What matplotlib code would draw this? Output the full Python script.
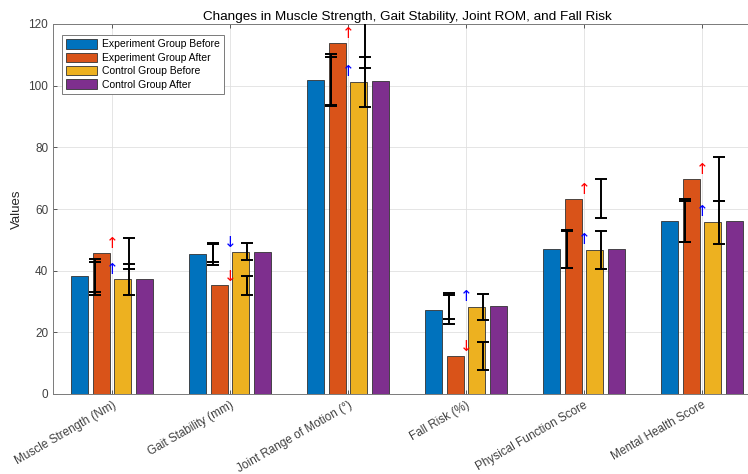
import numpy as np
import matplotlib
matplotlib.use("Agg")
import matplotlib.pyplot as plt

plt.rcParams['font.family'] = ['Liberation Sans', 'DejaVu Sans']

categories = ['Muscle Strength (Nm)', 'Gait Stability (mm)', 'Joint Range of Motion (°)',
              'Fall Risk (%)', 'Physical Function Score', 'Mental Health Score']
series_names = ['Experiment Group Before', 'Experiment Group After',
                'Control Group Before', 'Control Group After']

# group means
exp_before = [38.4, 45.4, 101.8, 27.4, 47.1, 56.2]
exp_after = [45.7, 35.2, 114.0, 12.4, 63.3, 69.8]
ctrl_before = [37.2, 46.2, 101.1, 28.1, 46.7, 55.7]
ctrl_after = [37.4, 46.0, 101.5, 28.6, 47.0, 56.0]

# standard deviations
exp_before_sd = [5.4, 3.4, 8.4, 4.6, 6.1, 7.0]
exp_after_sd = [5.0, 3.2, 8.4, 4.5, 6.3, 7.2]
ctrl_before_sd = [5.0, 2.9, 8.1, 4.2, 6.3, 7.0]
ctrl_after_sd = [5.4, 3.1, 7.7, 4.2, 6.0, 6.7]

colors = ['#0072BD', '#D95319', '#EDB120', '#7E2F8E']

fig = plt.figure(figsize=(7.48, 4.74), dpi=100)
ax = fig.add_axes([53 / 748, 80 / 474, 708 / 748, 370 / 474])

x = np.arange(1, len(categories) + 1)
ngroups = 4
groupwidth = min(0.8, ngroups / (ngroups + 1.5))
barw = groupwidth / ngroups * 0.8
means = [exp_before, exp_after, ctrl_before, ctrl_after]
for i, (vals, col, name) in enumerate(zip(means, colors, series_names)):
    off = -groupwidth / 2 + (2 * i + 1) * groupwidth / (2 * ngroups)
    ax.bar(x + off, vals, width=barw, color=col, edgecolor='#333333',
           linewidth=0.6, label=name, zorder=2)

# error bars (before/after-control on the left, after/before-control on the right)
eb_kw = dict(fmt='none', ecolor='black', elinewidth=1.4, capsize=4, capthick=1.4, zorder=3)
ax.errorbar(x - 0.148, exp_before, yerr=exp_before_sd, **eb_kw)
ax.errorbar(x - 0.148, ctrl_after, yerr=ctrl_after_sd, **eb_kw)
ax.errorbar(x + 0.148, exp_after, yerr=exp_after_sd, **eb_kw)
ax.errorbar(x + 0.148, ctrl_before, yerr=ctrl_before_sd, **eb_kw)

# change arrows
for xi, b, a in zip(x, exp_before, exp_after):
    ax.text(xi, a + 0.6, '↑' if a > b else '↓', color='red', ha='center', va='bottom',
            fontsize=11, family='DejaVu Sans', zorder=4)
for xi, b, a in zip(x, ctrl_before, ctrl_after):
    ax.text(xi, a + 0.6, '↑' if a > b else '↓', color='blue', ha='center', va='bottom',
            fontsize=11, family='DejaVu Sans', zorder=4)

ax.set_xlim(0.5, 6.5)
ax.set_ylim(0, 120)
ax.set_yticks(np.arange(0, 121, 20))
ax.set_xticks(x)
ax.set_xticklabels(categories, rotation=30, ha='right', va='top', rotation_mode='anchor')
ax.tick_params(direction='in', length=3, colors='#404040', labelsize=8.5, top=True,
               right=False, width=0.6)
ax.grid(True, color='#e0e0e0', linewidth=0.6, zorder=0)
ax.set_axisbelow(True)
for s in ax.spines.values():
    s.set_color('#7a7a7a')
    s.set_linewidth(0.7)
ax.spines['right'].set_visible(False)

ax.set_ylabel('Values', fontsize=9.5, color='#262626')
ax.set_title('Changes in Muscle Strength, Gait Stability, Joint ROM, and Fall Risk',
             fontsize=9.7, color='black', pad=3)

leg = ax.legend(loc='upper left', bbox_to_anchor=(0.0127, 0.970), borderaxespad=0,
                fontsize=7.5, handlelength=3.0, handleheight=1.0, labelspacing=0.3,
                fancybox=False, framealpha=1, edgecolor='#7a7a7a', borderpad=0.4,
                handletextpad=0.4)
leg.get_frame().set_linewidth(0.7)

fig.savefig('out.png', dpi=100)
